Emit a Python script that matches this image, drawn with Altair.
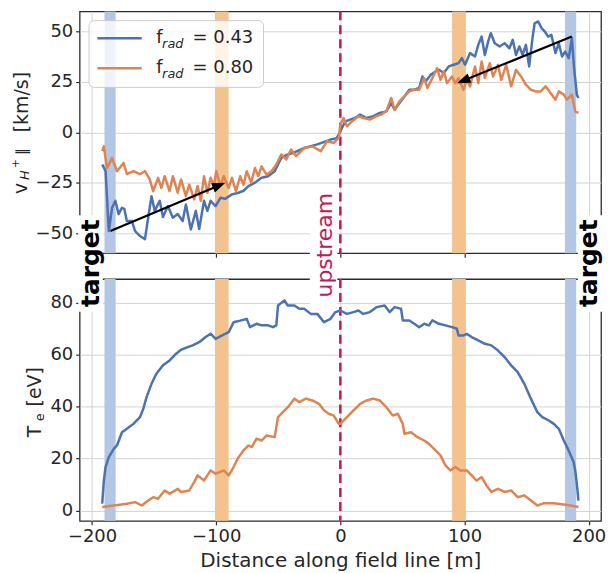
import math
import altair as alt
import pandas as pd

# ---------------- data ----------------
DIST_DOMAIN = [-210, 210]
V_DOMAIN = [-60, 60]
TE_DOMAIN = [-4, 89]
X_TICKS = [-200, -100, 0, 100, 200]
V_TICKS = [-50, -25, 0, 25, 50]
TE_TICKS = [0, 20, 40, 60, 80]

SERIES = ["0.43", "0.80"]
LINE_COLORS = ["#4c72b0", "#dd8452"]
BAND_COLORS = {"0.43": "#b3c6e3", "0.80": "#f2c28f"}
UP_COLOR = "#c0185c"
FONT = "DejaVu Sans"
INK = "#262626"

# parallel ion velocity [km/s], f_rad = 0.43
V_043 = [(-191.8, -16), (-189.1, -19.3), (-186.5, -49), (-183.9, -37.5), (-181.2, -34),
         (-178.6, -40.6), (-176, -37.5), (-174, -38), (-172, -44), (-168, -44), (-165.3, -49),
         (-161.4, -51.5), (-157.4, -53), (-154.8, -42.4), (-152.1, -31.7), (-149.5, -39),
         (-145.5, -34), (-142.9, -42), (-138.9, -36.6), (-134.9, -42.4), (-131, -40.6),
         (-127, -44), (-124.4, -35.8), (-120.4, -48.2), (-116.4, -39), (-113.7, -48),
         (-109.8, -34), (-107.1, -39), (-104.5, -34), (-100.5, -36.6), (-96.6, -32.5),
         (-92.6, -33), (-87.3, -30.8), (-82, -30), (-78, -29), (-74, -26.7), (-68.8, -25),
         (-63.5, -22.6), (-58.2, -21.8), (-52.9, -19.3), (-47.6, -12.7), (-42.3, -11),
         (-37, -10), (-29, -7.8), (-18.5, -6), (-7.9, -3.6), (-3, -3), (0, 0.5), (4, 5.4),
         (7.9, 6.3), (11.9, 7.1), (15.9, 8.8), (21.2, 7.1), (26.5, 8), (31.7, 9.6), (37, 10.4),
         (41, 14.5), (43.7, 11.2), (47.6, 14.5), (51.6, 17.8), (55.6, 21.1), (59.5, 21.1),
         (63.5, 22), (66.1, 27.7), (68.8, 25.2), (72.8, 28.5), (76.7, 30.2), (79.4, 31),
         (83.3, 29.4), (87.3, 32.7), (91.3, 33.5), (95.2, 34.3), (97.9, 36.8), (100.5, 33.5),
         (104.5, 39.3), (108.5, 37.6), (111.1, 43.4), (113.8, 47.5), (116.4, 38.4),
         (119.1, 45.1), (121.2, 49.2), (124.4, 44.2), (128.3, 42.6), (132.3, 44.2),
         (136.2, 41.7), (138.9, 45.9), (141.5, 38.4), (144.2, 42.6), (146.8, 38.4),
         (149.5, 43.4), (152.1, 32.7), (154.8, 46.7), (156.5, 54.1), (159.4, 55),
         (162.1, 51.7), (164.7, 50), (167.4, 47.5), (170, 48.4), (173.3, 39.3), (176, 44.2),
         (178.6, 37.6), (181.2, 40.1), (184, 36.8), (186.5, 46.7), (188.3, 31.9),
         (190.5, 18.7), (191.8, 17)]

# parallel ion velocity [km/s], f_rad = 0.80
V_080 = [(-191.8, -9.4), (-190.5, -7), (-187.9, -17.7), (-183.9, -12.7), (-179.9, -19.3),
         (-174.6, -15.2), (-172, -20.7), (-166.7, -19.3), (-161.4, -20.8), (-157.4, -19.3),
         (-153.5, -23.4), (-150.8, -29.2), (-146.8, -22.6), (-144.2, -27.6), (-141.5, -21.8),
         (-137.6, -29.2), (-134.9, -21.8), (-131, -30), (-128.3, -23.4), (-124.4, -31.7),
         (-121.7, -26), (-117.7, -33.3), (-115, -26.7), (-112.4, -34), (-109.8, -21.8),
         (-107.1, -30), (-104.5, -22.6), (-101.8, -26.7), (-100, -19.3), (-96.6, -26.7),
         (-93.9, -21.8), (-90, -27.6), (-87.3, -22.6), (-84.1, -29.2), (-80.7, -21.8),
         (-78, -26), (-75.4, -19.3), (-71.9, -25), (-68.8, -17.7), (-66.1, -21.8),
         (-63.5, -16.9), (-59.5, -21), (-55.5, -19.3), (-51.6, -16), (-47.6, -11),
         (-43.6, -13.5), (-39.7, -8.6), (-35.7, -11.8), (-29, -7.8), (-22.4, -7),
         (-15.8, -9.4), (-10.6, -4.4), (-5.3, -5.3), (-1.3, -2.8), (0, 3.8), (2.6, 7.1),
         (5.3, 3), (9.3, 5.4), (14.6, 8), (18.5, 7.1), (23.8, 6.3), (29.1, 8), (33.1, 8.8),
         (37, 10.4), (41, 17), (43.7, 11.2), (47.6, 15.3), (51.6, 17.8), (55.6, 20.3),
         (59.5, 21.1), (63.5, 21.1), (67.5, 26.9), (70.1, 22), (74.1, 26.9), (78, 31.8),
         (80.7, 26), (83.3, 30.2), (86, 24.4), (89.9, 27.7), (92.6, 24.4), (95.2, 26.9),
         (99.2, 21.1), (101.9, 26), (104.5, 22.8), (108.5, 32.7), (111.1, 24.4),
         (113.8, 35.1), (116.4, 26.9), (120.4, 34.3), (123, 27.7), (127, 33.5), (129.6, 26),
         (133.6, 33.5), (137.6, 22.8), (141.5, 31), (145.5, 27.7), (149.5, 23.6),
         (153.5, 21.1), (157.4, 20.3), (161.4, 20.3), (165.3, 22.8), (169.3, 19.5),
         (173.3, 16.2), (176, 20.3), (180, 18.7), (182.5, 16.2), (186.5, 18.7),
         (189.2, 10.4), (191.8, 9.6)]

# electron temperature [eV], f_rad = 0.43
TE_043 = [(-191.8, 2.6), (-190.5, 11.5), (-189.1, 16.7), (-186.5, 20.5), (-182.5, 23.7),
          (-179.9, 25), (-175.9, 30.1), (-172, 31.4), (-166.7, 33.3), (-161.4, 35.9),
          (-158.7, 39.1), (-156.1, 43.6), (-152.1, 48.7), (-148.2, 52.6), (-142.9, 55.8),
          (-137.5, 57.7), (-132.3, 60.3), (-128.3, 61.8), (-123, 62.8), (-119, 63.5),
          (-113.7, 64.7), (-108.5, 66.7), (-104.5, 68), (-100.5, 66), (-95.2, 67.3),
          (-89.9, 68.6), (-86, 72.4), (-80.7, 73), (-75.4, 73.7), (-72.8, 70.5),
          (-67.5, 71.8), (-63.5, 71.2), (-58.2, 71.2), (-54.2, 70.5), (-51.6, 71.2),
          (-50.2, 78.8), (-45, 80.8), (-42.3, 78.8), (-37, 78.8), (-33.1, 77.6),
          (-29.1, 77.6), (-23.8, 75.6), (-18.5, 75.6), (-13.2, 72.4), (-7.9, 73.7),
          (-4, 76.3), (0, 76.9), (5.3, 75.6), (10.6, 76.3), (14.6, 76.9), (18.5, 75.6),
          (23.8, 76.3), (29.1, 78.2), (35.7, 78.8), (39.7, 76.3), (43.7, 78.2), (48.9, 77.6),
          (50.3, 73.1), (55.6, 73.1), (59.5, 71.8), (63.5, 70.5), (67.5, 71.8), (71.4, 71.2),
          (74.1, 73.1), (79.4, 71.8), (84.7, 71.2), (89.9, 70.5), (93.9, 69.9), (95.2, 67.3),
          (99.2, 67.3), (101.9, 67.9), (105.8, 66.7), (111.1, 65.4), (116.4, 64.1),
          (121.7, 63.5), (127, 61.5), (132.3, 59), (137.6, 55.8), (142.9, 53.2),
          (148.2, 48.7), (153.5, 43), (158.7, 37.8), (162.7, 35.9), (168, 34.6), (172, 33.3),
          (176, 31.4), (180, 26.9), (183.9, 23.1), (187.9, 18.6), (189.2, 15.4),
          (190.5, 10.3), (191.8, 3.8)]

# electron temperature [eV], f_rad = 0.80
TE_080 = [(-191.8, 1.3), (-182.5, 1.9), (-172, 2.6), (-165.3, 3.2), (-160, 1.9),
          (-154.8, 3.8), (-150.8, 5.1), (-146.8, 4.5), (-141.5, 7.7), (-137.5, 6.4),
          (-130.9, 8.3), (-128.3, 7.1), (-121.7, 7.7), (-117.7, 10.9), (-115, 13.5),
          (-109.8, 11.5), (-104.5, 15.4), (-100.5, 14.1), (-93.9, 15.4), (-89.9, 13.5),
          (-86, 16.7), (-82, 20.5), (-78, 23.1), (-74, 25), (-71.4, 24.4), (-67.5, 27.6),
          (-63.5, 26.9), (-59.5, 28.8), (-52.9, 28.2), (-50.2, 35.9), (-46.3, 37.8),
          (-42.3, 39.7), (-37, 43), (-33.1, 41.7), (-27.8, 43), (-22.5, 42.3), (-17.2, 41),
          (-13.2, 38.5), (-9.3, 37.2), (-5.3, 36.5), (-1.3, 33.3), (0, 33.3), (5.3, 35.9),
          (10.6, 38.5), (15.9, 41), (21.2, 42.3), (26.5, 43), (31.7, 42.3), (37, 39.7),
          (42.3, 36.5), (46.3, 37.2), (50.3, 33.3), (51.6, 29.5), (56.9, 30.1), (62.2, 28.2),
          (67.5, 26.9), (71.4, 25.6), (76.7, 23.1), (80.7, 21.2), (84.7, 17.3), (88.6, 15.4),
          (92.6, 16.7), (96.6, 15.4), (101.9, 15.4), (105.8, 13.5), (109.8, 11.5),
          (113.8, 12.8), (117.7, 9.6), (121.7, 7.1), (127, 8.3), (132.3, 7.1), (137.6, 7.7),
          (142.9, 5.1), (148.2, 5.8), (153.5, 3.8), (158.7, 1.9), (164, 2.8), (172, 2.8),
          (180, 2.3), (185.2, 1.9), (191.8, 1.3)]

# shaded regions (start, end, series)
BANDS = [(-190, -181, "0.43"), (181, 190, "0.43"), (-101, -90, "0.80"), (90, 101, "0.80")]
# arrows (tail x, tail y, tip x, tip y) in the velocity panel
ARROWS = [(-185.2, -49.0, -92.6, -25.0), (186.5, 47.5, 94.0, 24.4)]

# ---------------- layout ----------------
W, H = 524, 243

xs = alt.Scale(domain=DIST_DOMAIN, nice=False, zero=False)
ys_v = alt.Scale(domain=V_DOMAIN, nice=False, zero=False)
ys_t = alt.Scale(domain=TE_DOMAIN, nice=False, zero=False)
cs = alt.Scale(domain=SERIES, range=LINE_COLORS)
MINUS = "replace(datum.label, '-', '\u2212')"

ax_x_top = alt.Axis(values=X_TICKS, labels=False, title=None, grid=True)
ax_x_bot = alt.Axis(values=X_TICKS, title="Distance along field line [m]", grid=True,
                    labelExpr=MINUS, titlePadding=5)
ax_y_v = alt.Axis(values=V_TICKS, title=None, grid=True, labelExpr=MINUS)
ax_y_t = alt.Axis(values=TE_TICKS, title=None, grid=True)


def series_df(a, b):
    rows = [{"d": x, "v": y, "s": "0.43"} for x, y in a]
    rows += [{"d": x, "v": y, "s": "0.80"} for x, y in b]
    return pd.DataFrame(rows)


bands_df = pd.DataFrame([{"x0": a, "x1": b, "c": BAND_COLORS[s]} for a, b, s in BANDS])


def make_panel(yscale, xaxis, yaxis, df, extra_fn):
    def X(f):
        return alt.X(f, type="quantitative", scale=xs, axis=xaxis)

    def Y(f):
        return alt.Y(f, type="quantitative", scale=yscale, axis=yaxis)

    layers = []
    layers.append(alt.Chart(bands_df).mark_rect().encode(
        x=X("x0"), x2="x1", fill=alt.Fill("c:N", scale=None)))
    layers.append(alt.Chart(pd.DataFrame({"x": [0]})).mark_rule(
        color=UP_COLOR, strokeDash=[9, 5], strokeWidth=2.5).encode(x=X("x")))
    layers.append(alt.Chart(df).mark_line(strokeWidth=2.5, strokeJoin="round").encode(
        x=X("d"), y=Y("v"), color=alt.Color("s:N", scale=cs, legend=None)))
    layers += extra_fn(X, Y)
    return alt.layer(*layers).properties(width=W, height=H)


def text_layer(X, Y, rows, **kw):
    base = dict(font=FONT, color=INK, baseline="middle")
    base.update(kw)
    return alt.Chart(pd.DataFrame(rows)).mark_text(**base).encode(
        x=X("x"), y=Y("y"), text="t:N")


def top_extras(X, Y):
    out = []
    # arrows
    kx = W / (DIST_DOMAIN[1] - DIST_DOMAIN[0])
    ky = H / (V_DOMAIN[1] - V_DOMAIN[0])
    rows = []
    for x0, y0, x1, y1 in ARROWS:
        dxp = (x1 - x0) * kx
        dyp = -(y1 - y0) * ky
        L = math.hypot(dxp, dyp)
        f = 1 - 9 / L
        ang = math.degrees(math.atan2(dxp, -dyp)) % 360
        rows.append({"x": x0, "y": y0, "xe": x0 + f * (x1 - x0), "ye": y0 + f * (y1 - y0),
                     "tx": x1, "ty": y1, "ang": ang})
    adf = pd.DataFrame(rows)
    out.append(alt.Chart(adf).mark_rule(color="black", strokeWidth=2.2).encode(
        x=X("x"), y=Y("y"), x2="xe", y2="ye"))
    out.append(alt.Chart(adf).mark_point(shape="M0,0L0.5,1.35L-0.5,1.35Z", filled=True,
                                         size=400, color="black", opacity=1,
                                         strokeWidth=0).encode(
        x=X("tx"), y=Y("ty"), angle=alt.Angle("ang:Q", scale=None)))
    # legend box
    out.append(alt.Chart(pd.DataFrame({"x0": [-202.4], "x1": [-61.9], "y0": [22.3], "y1": [55.4]}))
               .mark_rect(fill="white", fillOpacity=0.8, stroke="#cccccc", strokeWidth=1,
                          cornerRadius=5)
               .encode(x=X("x0"), x2="x1", y=Y("y0"), y2="y1"))
    out.append(alt.Chart(pd.DataFrame({"x0": [-195.7, -195.7], "x1": [-160.0, -160.0],
                                       "y": [46.7, 31.8], "s": SERIES}))
               .mark_rule(strokeWidth=2.5)
               .encode(x=X("x0"), x2="x1", y=Y("y"),
                       color=alt.Color("s:N", scale=cs, legend=None)))
    out.append(text_layer(X, Y, [{"x": -148.3, "y": 46.7, "t": "f"},
                                 {"x": -148.3, "y": 31.8, "t": "f"}],
                          align="left", fontSize=18))
    out.append(text_layer(X, Y, [{"x": -143.6, "y": 46.7, "t": "rad"},
                                 {"x": -143.6, "y": 31.8, "t": "rad"}],
                          align="left", fontSize=13, fontStyle="italic", dy=6))
    out.append(text_layer(X, Y, [{"x": -119.0, "y": 46.7, "t": "= 0.43"},
                                 {"x": -119.0, "y": 31.8, "t": "= 0.80"}],
                          align="left", fontSize=18))
    # y title  v_{H+} || [km/s]
    out.append(text_layer(X, Y, [{"x": -257.1, "y": -30.6, "t": "v"},
                                 {"x": -256.3, "y": 0.0, "t": "[km/s]"}],
                          align="left", angle=270, fontSize=19))
    out.append(text_layer(X, Y, [{"x": -254.2, "y": -23.7, "t": "H"}],
                          align="left", angle=270, fontSize=13, fontStyle="italic"))
    out.append(text_layer(X, Y, [{"x": -261.5, "y": -17.8, "t": "+"}],
                          align="left", angle=270, fontSize=11))
    out.append(text_layer(X, Y, [{"x": -256.3, "y": -11.4, "t": "\u2225"}],
                          align="left", angle=270, fontSize=15))
    return out


def bottom_extras(X, Y):
    out = []
    # white boxes behind the annotations
    out.append(alt.Chart(pd.DataFrame({
        "x0": [-211.1, 191.3, -24.6], "x1": [-191.3, 211.5, -2.4],
        "y0": [76.4, 76.4, 79.1], "y1": [113.5, 113.5, 125.0]}))
        .mark_rect(fill="white", strokeWidth=0)
        .encode(x=X("x0"), x2="x1", y=Y("y0"), y2="y1"))
    out.append(text_layer(X, Y, [{"x": -201.2, "y": 95.1, "t": "target"},
                                 {"x": 200.6, "y": 95.1, "t": "target"}],
                          align="center", angle=270, fontSize=25, fontWeight="bold",
                          color="black"))
    out.append(text_layer(X, Y, [{"x": -12.7, "y": 102.0, "t": "upstream"}],
                          align="center", angle=270, fontSize=22, color=UP_COLOR))
    # y title  T_e [eV]
    out.append(text_layer(X, Y, [{"x": -246.0, "y": 28.2, "t": "T"},
                                 {"x": -246.0, "y": 40.0, "t": "[eV]"}],
                          align="left", angle=270, fontSize=19))
    out.append(text_layer(X, Y, [{"x": -242.3, "y": 34.3, "t": "e"}],
                          align="left", angle=270, fontSize=13))
    return out


top = make_panel(ys_v, ax_x_top, ax_y_v, series_df(V_043, V_080), top_extras)
bottom = make_panel(ys_t, ax_x_bot, ax_y_t, series_df(TE_043, TE_080), bottom_extras)

chart = (
    alt.vconcat(top, bottom, spacing=26, bounds="flush")
    .properties(padding={"left": 1, "top": 0, "right": 0, "bottom": 0}, background="white")
    .configure_view(stroke="#2b2b2b", strokeWidth=1.3)
    .configure_axis(labelFont=FONT, titleFont=FONT, labelFontSize=18, titleFontSize=20,
                    titleFontWeight="normal", labelColor=INK, titleColor=INK,
                    gridColor="#d3d3d3", gridWidth=1, tickColor="#2b2b2b", tickSize=4,
                    tickWidth=1.2, domain=False, labelPadding=3)
)

chart.save("out.html", embed_options={"renderer": "svg", "actions": False})
